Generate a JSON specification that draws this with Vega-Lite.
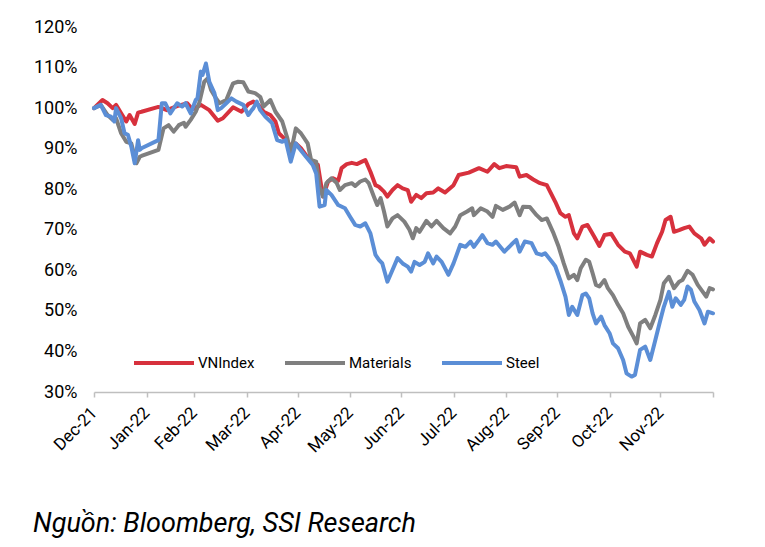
{
  "$schema": "https://vega.github.io/schema/vega-lite/v6.json",
  "width": 619,
  "height": 365,
  "autosize": {"type": "none"},
  "padding": {"left": 94, "top": 27, "right": 52, "bottom": 155},
  "background": "#ffffff",
  "title": {
    "text": "Nguồn: Bloomberg, SSI Research",
    "orient": "bottom",
    "anchor": "start",
    "frame": "group",
    "dx": -61,
    "offset": 56,
    "font": "Roboto",
    "fontStyle": "italic",
    "fontWeight": "normal",
    "fontSize": 27,
    "color": "#000000"
  },
  "config": {
    "view": {"stroke": null},
    "font": "Roboto"
  },
  "data": {
    "values": [
      {"date":"2021-12-31","series":"VNIndex","value":100},
      {"date":"2022-01-05","series":"VNIndex","value":102.0},
      {"date":"2022-01-08","series":"VNIndex","value":101.2},
      {"date":"2022-01-11","series":"VNIndex","value":100.0},
      {"date":"2022-01-13","series":"VNIndex","value":100.8},
      {"date":"2022-01-16","series":"VNIndex","value":98.7},
      {"date":"2022-01-19","series":"VNIndex","value":96.7},
      {"date":"2022-01-21","series":"VNIndex","value":98.3},
      {"date":"2022-01-24","series":"VNIndex","value":96.1},
      {"date":"2022-01-26","series":"VNIndex","value":98.9},
      {"date":"2022-01-28","series":"VNIndex","value":99.1},
      {"date":"2022-02-07","series":"VNIndex","value":100.3},
      {"date":"2022-02-12","series":"VNIndex","value":99.5},
      {"date":"2022-02-18","series":"VNIndex","value":100.5},
      {"date":"2022-02-24","series":"VNIndex","value":101.2},
      {"date":"2022-02-27","series":"VNIndex","value":99.7},
      {"date":"2022-03-04","series":"VNIndex","value":100.8},
      {"date":"2022-03-09","series":"VNIndex","value":99.5},
      {"date":"2022-03-14","series":"VNIndex","value":96.9},
      {"date":"2022-03-17","series":"VNIndex","value":97.5},
      {"date":"2022-03-23","series":"VNIndex","value":100.2},
      {"date":"2022-03-28","series":"VNIndex","value":99.1},
      {"date":"2022-04-01","series":"VNIndex","value":101.0},
      {"date":"2022-04-04","series":"VNIndex","value":101.6},
      {"date":"2022-04-07","series":"VNIndex","value":100.8},
      {"date":"2022-04-10","series":"VNIndex","value":99.1},
      {"date":"2022-04-14","series":"VNIndex","value":98.3},
      {"date":"2022-04-17","series":"VNIndex","value":96.7},
      {"date":"2022-04-19","series":"VNIndex","value":93.8},
      {"date":"2022-04-22","series":"VNIndex","value":92.6},
      {"date":"2022-04-25","series":"VNIndex","value":90.9},
      {"date":"2022-04-29","series":"VNIndex","value":91.3},
      {"date":"2022-05-02","series":"VNIndex","value":90.1},
      {"date":"2022-05-05","series":"VNIndex","value":88.4},
      {"date":"2022-05-08","series":"VNIndex","value":86.8},
      {"date":"2022-05-12","series":"VNIndex","value":86.0},
      {"date":"2022-05-15","series":"VNIndex","value":78.2},
      {"date":"2022-05-18","series":"VNIndex","value":81.9},
      {"date":"2022-05-21","series":"VNIndex","value":82.7},
      {"date":"2022-05-24","series":"VNIndex","value":82.1},
      {"date":"2022-05-26","series":"VNIndex","value":85.2},
      {"date":"2022-05-29","series":"VNIndex","value":86.2},
      {"date":"2022-06-01","series":"VNIndex","value":86.5},
      {"date":"2022-06-04","series":"VNIndex","value":86.2},
      {"date":"2022-06-07","series":"VNIndex","value":86.8},
      {"date":"2022-06-09","series":"VNIndex","value":87.2},
      {"date":"2022-06-12","series":"VNIndex","value":84.3},
      {"date":"2022-06-15","series":"VNIndex","value":81.0},
      {"date":"2022-06-17","series":"VNIndex","value":80.6},
      {"date":"2022-06-20","series":"VNIndex","value":79.4},
      {"date":"2022-06-22","series":"VNIndex","value":78.2},
      {"date":"2022-06-25","series":"VNIndex","value":79.8},
      {"date":"2022-06-28","series":"VNIndex","value":81.0},
      {"date":"2022-07-01","series":"VNIndex","value":80.2},
      {"date":"2022-07-04","series":"VNIndex","value":79.8},
      {"date":"2022-07-06","series":"VNIndex","value":76.9},
      {"date":"2022-07-09","series":"VNIndex","value":78.6},
      {"date":"2022-07-12","series":"VNIndex","value":77.8},
      {"date":"2022-07-15","series":"VNIndex","value":79.0},
      {"date":"2022-07-19","series":"VNIndex","value":79.2},
      {"date":"2022-07-22","series":"VNIndex","value":80.2},
      {"date":"2022-07-26","series":"VNIndex","value":79.2},
      {"date":"2022-07-31","series":"VNIndex","value":81.0},
      {"date":"2022-08-03","series":"VNIndex","value":83.5},
      {"date":"2022-08-09","series":"VNIndex","value":84.1},
      {"date":"2022-08-15","series":"VNIndex","value":85.2},
      {"date":"2022-08-20","series":"VNIndex","value":84.3},
      {"date":"2022-08-24","series":"VNIndex","value":86.2},
      {"date":"2022-08-27","series":"VNIndex","value":85.2},
      {"date":"2022-08-31","series":"VNIndex","value":85.7},
      {"date":"2022-09-06","series":"VNIndex","value":85.4},
      {"date":"2022-09-08","series":"VNIndex","value":83.1},
      {"date":"2022-09-12","series":"VNIndex","value":83.5},
      {"date":"2022-09-16","series":"VNIndex","value":82.4},
      {"date":"2022-09-20","series":"VNIndex","value":81.5},
      {"date":"2022-09-24","series":"VNIndex","value":81.0},
      {"date":"2022-09-29","series":"VNIndex","value":76.9},
      {"date":"2022-10-02","series":"VNIndex","value":74.1},
      {"date":"2022-10-05","series":"VNIndex","value":73.2},
      {"date":"2022-10-07","series":"VNIndex","value":73.6},
      {"date":"2022-10-10","series":"VNIndex","value":69.1},
      {"date":"2022-10-12","series":"VNIndex","value":67.9},
      {"date":"2022-10-15","series":"VNIndex","value":70.8},
      {"date":"2022-10-18","series":"VNIndex","value":71.2},
      {"date":"2022-10-22","series":"VNIndex","value":68.3},
      {"date":"2022-10-25","series":"VNIndex","value":66.0},
      {"date":"2022-10-28","series":"VNIndex","value":68.7},
      {"date":"2022-11-01","series":"VNIndex","value":69.0},
      {"date":"2022-11-05","series":"VNIndex","value":66.3},
      {"date":"2022-11-09","series":"VNIndex","value":64.6},
      {"date":"2022-11-12","series":"VNIndex","value":64.2},
      {"date":"2022-11-16","series":"VNIndex","value":60.9},
      {"date":"2022-11-18","series":"VNIndex","value":64.6},
      {"date":"2022-11-22","series":"VNIndex","value":63.8},
      {"date":"2022-11-25","series":"VNIndex","value":63.4},
      {"date":"2022-11-28","series":"VNIndex","value":66.7},
      {"date":"2022-12-01","series":"VNIndex","value":69.5},
      {"date":"2022-12-03","series":"VNIndex","value":72.4},
      {"date":"2022-12-06","series":"VNIndex","value":73.2},
      {"date":"2022-12-08","series":"VNIndex","value":69.5},
      {"date":"2022-12-11","series":"VNIndex","value":69.9},
      {"date":"2022-12-14","series":"VNIndex","value":70.4},
      {"date":"2022-12-17","series":"VNIndex","value":70.8},
      {"date":"2022-12-20","series":"VNIndex","value":69.1},
      {"date":"2022-12-24","series":"VNIndex","value":67.9},
      {"date":"2022-12-26","series":"VNIndex","value":66.3},
      {"date":"2022-12-29","series":"VNIndex","value":67.9},
      {"date":"2022-12-31","series":"VNIndex","value":67.1},

      {"date":"2021-12-31","series":"Materials","value":100},
      {"date":"2022-01-04","series":"Materials","value":100.8},
      {"date":"2022-01-08","series":"Materials","value":98.3},
      {"date":"2022-01-11","series":"Materials","value":97.1},
      {"date":"2022-01-13","series":"Materials","value":97.5},
      {"date":"2022-01-16","series":"Materials","value":93.8},
      {"date":"2022-01-19","series":"Materials","value":91.7},
      {"date":"2022-01-22","series":"Materials","value":91.3},
      {"date":"2022-01-25","series":"Materials","value":86.4},
      {"date":"2022-01-27","series":"Materials","value":88.0},
      {"date":"2022-01-28","series":"Materials","value":88.2},
      {"date":"2022-02-07","series":"Materials","value":89.7},
      {"date":"2022-02-10","series":"Materials","value":95.0},
      {"date":"2022-02-13","series":"Materials","value":95.8},
      {"date":"2022-02-16","series":"Materials","value":94.2},
      {"date":"2022-02-19","series":"Materials","value":95.8},
      {"date":"2022-02-22","series":"Materials","value":96.4},
      {"date":"2022-02-23","series":"Materials","value":95.4},
      {"date":"2022-02-26","series":"Materials","value":97.1},
      {"date":"2022-03-01","series":"Materials","value":99.1},
      {"date":"2022-03-03","series":"Materials","value":101.2},
      {"date":"2022-03-06","series":"Materials","value":106.5},
      {"date":"2022-03-08","series":"Materials","value":107.3},
      {"date":"2022-03-10","series":"Materials","value":104.5},
      {"date":"2022-03-13","series":"Materials","value":102.4},
      {"date":"2022-03-15","series":"Materials","value":101.2},
      {"date":"2022-03-19","series":"Materials","value":102.0},
      {"date":"2022-03-23","series":"Materials","value":106.1},
      {"date":"2022-03-26","series":"Materials","value":106.5},
      {"date":"2022-03-29","series":"Materials","value":106.4},
      {"date":"2022-04-01","series":"Materials","value":104.1},
      {"date":"2022-04-05","series":"Materials","value":103.7},
      {"date":"2022-04-08","series":"Materials","value":102.8},
      {"date":"2022-04-10","series":"Materials","value":100.4},
      {"date":"2022-04-14","series":"Materials","value":102.0},
      {"date":"2022-04-17","series":"Materials","value":99.1},
      {"date":"2022-04-21","series":"Materials","value":96.7},
      {"date":"2022-04-24","series":"Materials","value":92.6},
      {"date":"2022-04-26","series":"Materials","value":88.9},
      {"date":"2022-04-29","series":"Materials","value":95.0},
      {"date":"2022-05-02","series":"Materials","value":93.8},
      {"date":"2022-05-06","series":"Materials","value":91.3},
      {"date":"2022-05-08","series":"Materials","value":87.2},
      {"date":"2022-05-11","series":"Materials","value":86.8},
      {"date":"2022-05-13","series":"Materials","value":80.6},
      {"date":"2022-05-15","series":"Materials","value":78.2},
      {"date":"2022-05-17","series":"Materials","value":81.5},
      {"date":"2022-05-20","series":"Materials","value":82.7},
      {"date":"2022-05-23","series":"Materials","value":81.6},
      {"date":"2022-05-25","series":"Materials","value":79.8},
      {"date":"2022-05-28","series":"Materials","value":81.0},
      {"date":"2022-06-01","series":"Materials","value":81.5},
      {"date":"2022-06-03","series":"Materials","value":80.8},
      {"date":"2022-06-06","series":"Materials","value":81.9},
      {"date":"2022-06-09","series":"Materials","value":82.4},
      {"date":"2022-06-11","series":"Materials","value":81.5},
      {"date":"2022-06-14","series":"Materials","value":78.2},
      {"date":"2022-06-16","series":"Materials","value":76.1},
      {"date":"2022-06-18","series":"Materials","value":77.8},
      {"date":"2022-06-20","series":"Materials","value":74.5},
      {"date":"2022-06-22","series":"Materials","value":70.8},
      {"date":"2022-06-25","series":"Materials","value":72.8},
      {"date":"2022-06-28","series":"Materials","value":73.6},
      {"date":"2022-07-02","series":"Materials","value":72.0},
      {"date":"2022-07-05","series":"Materials","value":70.0},
      {"date":"2022-07-07","series":"Materials","value":67.9},
      {"date":"2022-07-09","series":"Materials","value":70.4},
      {"date":"2022-07-11","series":"Materials","value":69.5},
      {"date":"2022-07-15","series":"Materials","value":72.2},
      {"date":"2022-07-18","series":"Materials","value":70.8},
      {"date":"2022-07-21","series":"Materials","value":72.2},
      {"date":"2022-07-25","series":"Materials","value":70.4},
      {"date":"2022-07-29","series":"Materials","value":69.1},
      {"date":"2022-08-01","series":"Materials","value":70.8},
      {"date":"2022-08-04","series":"Materials","value":73.6},
      {"date":"2022-08-08","series":"Materials","value":74.5},
      {"date":"2022-08-11","series":"Materials","value":75.3},
      {"date":"2022-08-12","series":"Materials","value":73.6},
      {"date":"2022-08-16","series":"Materials","value":75.3},
      {"date":"2022-08-20","series":"Materials","value":74.5},
      {"date":"2022-08-23","series":"Materials","value":73.2},
      {"date":"2022-08-25","series":"Materials","value":75.9},
      {"date":"2022-08-29","series":"Materials","value":74.9},
      {"date":"2022-09-02","series":"Materials","value":75.7},
      {"date":"2022-09-05","series":"Materials","value":76.7},
      {"date":"2022-09-08","series":"Materials","value":73.6},
      {"date":"2022-09-10","series":"Materials","value":75.7},
      {"date":"2022-09-14","series":"Materials","value":75.6},
      {"date":"2022-09-18","series":"Materials","value":73.6},
      {"date":"2022-09-21","series":"Materials","value":72.4},
      {"date":"2022-09-24","series":"Materials","value":72.8},
      {"date":"2022-09-28","series":"Materials","value":69.1},
      {"date":"2022-10-01","series":"Materials","value":65.8},
      {"date":"2022-10-04","series":"Materials","value":61.7},
      {"date":"2022-10-07","series":"Materials","value":58.0},
      {"date":"2022-10-10","series":"Materials","value":58.9},
      {"date":"2022-10-12","series":"Materials","value":57.6},
      {"date":"2022-10-14","series":"Materials","value":60.5},
      {"date":"2022-10-17","series":"Materials","value":62.6},
      {"date":"2022-10-19","series":"Materials","value":62.1},
      {"date":"2022-10-21","series":"Materials","value":59.3},
      {"date":"2022-10-23","series":"Materials","value":56.4},
      {"date":"2022-10-25","series":"Materials","value":56.0},
      {"date":"2022-10-28","series":"Materials","value":57.6},
      {"date":"2022-10-30","series":"Materials","value":55.6},
      {"date":"2022-11-02","series":"Materials","value":53.9},
      {"date":"2022-11-05","series":"Materials","value":51.5},
      {"date":"2022-11-08","series":"Materials","value":49.4},
      {"date":"2022-11-11","series":"Materials","value":46.1},
      {"date":"2022-11-14","series":"Materials","value":43.7},
      {"date":"2022-11-16","series":"Materials","value":42.0},
      {"date":"2022-11-18","series":"Materials","value":46.9},
      {"date":"2022-11-21","series":"Materials","value":47.8},
      {"date":"2022-11-24","series":"Materials","value":45.7},
      {"date":"2022-11-27","series":"Materials","value":49.0},
      {"date":"2022-11-30","series":"Materials","value":52.7},
      {"date":"2022-12-02","series":"Materials","value":56.8},
      {"date":"2022-12-05","series":"Materials","value":58.4},
      {"date":"2022-12-08","series":"Materials","value":55.6},
      {"date":"2022-12-11","series":"Materials","value":57.2},
      {"date":"2022-12-13","series":"Materials","value":57.6},
      {"date":"2022-12-16","series":"Materials","value":59.9},
      {"date":"2022-12-19","series":"Materials","value":58.9},
      {"date":"2022-12-22","series":"Materials","value":56.4},
      {"date":"2022-12-25","series":"Materials","value":54.7},
      {"date":"2022-12-27","series":"Materials","value":53.5},
      {"date":"2022-12-29","series":"Materials","value":55.6},
      {"date":"2022-12-31","series":"Materials","value":55.3},

      {"date":"2021-12-31","series":"Steel","value":100},
      {"date":"2022-01-04","series":"Steel","value":100.8},
      {"date":"2022-01-07","series":"Steel","value":98.3},
      {"date":"2022-01-10","series":"Steel","value":97.9},
      {"date":"2022-01-12","series":"Steel","value":96.7},
      {"date":"2022-01-13","series":"Steel","value":100.0},
      {"date":"2022-01-16","series":"Steel","value":97.5},
      {"date":"2022-01-18","series":"Steel","value":93.8},
      {"date":"2022-01-20","series":"Steel","value":93.4},
      {"date":"2022-01-22","series":"Steel","value":90.5},
      {"date":"2022-01-24","series":"Steel","value":86.4},
      {"date":"2022-01-26","series":"Steel","value":92.1},
      {"date":"2022-01-27","series":"Steel","value":89.7},
      {"date":"2022-01-28","series":"Steel","value":90.1},
      {"date":"2022-02-07","series":"Steel","value":92.1},
      {"date":"2022-02-09","series":"Steel","value":101.2},
      {"date":"2022-02-11","series":"Steel","value":101.2},
      {"date":"2022-02-14","series":"Steel","value":98.7},
      {"date":"2022-02-18","series":"Steel","value":101.2},
      {"date":"2022-02-21","series":"Steel","value":100.4},
      {"date":"2022-02-23","series":"Steel","value":101.2},
      {"date":"2022-02-26","series":"Steel","value":98.7},
      {"date":"2022-03-01","series":"Steel","value":102.0},
      {"date":"2022-03-02","series":"Steel","value":102.4},
      {"date":"2022-03-04","series":"Steel","value":109.0},
      {"date":"2022-03-05","series":"Steel","value":108.2},
      {"date":"2022-03-07","series":"Steel","value":111.0},
      {"date":"2022-03-09","series":"Steel","value":106.5},
      {"date":"2022-03-12","series":"Steel","value":103.7},
      {"date":"2022-03-14","series":"Steel","value":99.5},
      {"date":"2022-03-16","series":"Steel","value":100.0},
      {"date":"2022-03-19","series":"Steel","value":101.2},
      {"date":"2022-03-22","series":"Steel","value":102.4},
      {"date":"2022-03-25","series":"Steel","value":101.6},
      {"date":"2022-03-29","series":"Steel","value":100.8},
      {"date":"2022-04-01","series":"Steel","value":98.3},
      {"date":"2022-04-03","series":"Steel","value":99.5},
      {"date":"2022-04-04","series":"Steel","value":100.0},
      {"date":"2022-04-06","series":"Steel","value":101.6},
      {"date":"2022-04-08","series":"Steel","value":99.5},
      {"date":"2022-04-11","series":"Steel","value":97.9},
      {"date":"2022-04-15","series":"Steel","value":96.3},
      {"date":"2022-04-18","series":"Steel","value":92.1},
      {"date":"2022-04-21","series":"Steel","value":91.7},
      {"date":"2022-04-23","series":"Steel","value":92.1},
      {"date":"2022-04-26","series":"Steel","value":86.8},
      {"date":"2022-04-29","series":"Steel","value":91.3},
      {"date":"2022-05-01","series":"Steel","value":90.1},
      {"date":"2022-05-05","series":"Steel","value":88.0},
      {"date":"2022-05-09","series":"Steel","value":86.0},
      {"date":"2022-05-11","series":"Steel","value":83.9},
      {"date":"2022-05-13","series":"Steel","value":75.7},
      {"date":"2022-05-16","series":"Steel","value":76.1},
      {"date":"2022-05-17","series":"Steel","value":79.8},
      {"date":"2022-05-20","series":"Steel","value":78.6},
      {"date":"2022-05-24","series":"Steel","value":76.1},
      {"date":"2022-05-28","series":"Steel","value":75.3},
      {"date":"2022-05-31","series":"Steel","value":73.2},
      {"date":"2022-06-03","series":"Steel","value":71.2},
      {"date":"2022-06-06","series":"Steel","value":70.8},
      {"date":"2022-06-09","series":"Steel","value":71.6},
      {"date":"2022-06-12","series":"Steel","value":69.1},
      {"date":"2022-06-15","series":"Steel","value":63.8},
      {"date":"2022-06-17","series":"Steel","value":62.6},
      {"date":"2022-06-19","series":"Steel","value":61.7},
      {"date":"2022-06-22","series":"Steel","value":57.2},
      {"date":"2022-06-25","series":"Steel","value":60.1},
      {"date":"2022-06-28","series":"Steel","value":63.0},
      {"date":"2022-07-01","series":"Steel","value":61.7},
      {"date":"2022-07-04","series":"Steel","value":60.9},
      {"date":"2022-07-06","series":"Steel","value":59.7},
      {"date":"2022-07-08","series":"Steel","value":62.1},
      {"date":"2022-07-11","series":"Steel","value":61.3},
      {"date":"2022-07-14","series":"Steel","value":62.1},
      {"date":"2022-07-16","series":"Steel","value":64.2},
      {"date":"2022-07-19","series":"Steel","value":61.7},
      {"date":"2022-07-21","series":"Steel","value":63.4},
      {"date":"2022-07-24","series":"Steel","value":62.1},
      {"date":"2022-07-28","series":"Steel","value":58.9},
      {"date":"2022-07-31","series":"Steel","value":61.7},
      {"date":"2022-08-04","series":"Steel","value":66.3},
      {"date":"2022-08-07","series":"Steel","value":65.8},
      {"date":"2022-08-10","series":"Steel","value":67.1},
      {"date":"2022-08-12","series":"Steel","value":65.8},
      {"date":"2022-08-15","series":"Steel","value":67.5},
      {"date":"2022-08-17","series":"Steel","value":68.7},
      {"date":"2022-08-20","series":"Steel","value":66.7},
      {"date":"2022-08-23","series":"Steel","value":66.3},
      {"date":"2022-08-25","series":"Steel","value":67.1},
      {"date":"2022-08-30","series":"Steel","value":64.6},
      {"date":"2022-09-03","series":"Steel","value":66.3},
      {"date":"2022-09-06","series":"Steel","value":67.5},
      {"date":"2022-09-08","series":"Steel","value":64.6},
      {"date":"2022-09-11","series":"Steel","value":67.1},
      {"date":"2022-09-15","series":"Steel","value":66.7},
      {"date":"2022-09-18","series":"Steel","value":64.2},
      {"date":"2022-09-21","series":"Steel","value":63.8},
      {"date":"2022-09-23","series":"Steel","value":64.2},
      {"date":"2022-09-27","series":"Steel","value":62.1},
      {"date":"2022-09-29","series":"Steel","value":61.0},
      {"date":"2022-10-02","series":"Steel","value":57.5},
      {"date":"2022-10-05","series":"Steel","value":53.5},
      {"date":"2022-10-07","series":"Steel","value":49.0},
      {"date":"2022-10-09","series":"Steel","value":51.0},
      {"date":"2022-10-12","series":"Steel","value":49.0},
      {"date":"2022-10-15","series":"Steel","value":53.9},
      {"date":"2022-10-17","series":"Steel","value":54.3},
      {"date":"2022-10-19","series":"Steel","value":53.1},
      {"date":"2022-10-21","series":"Steel","value":49.4},
      {"date":"2022-10-23","series":"Steel","value":46.9},
      {"date":"2022-10-26","series":"Steel","value":48.6},
      {"date":"2022-10-28","series":"Steel","value":46.5},
      {"date":"2022-10-31","series":"Steel","value":44.5},
      {"date":"2022-11-02","series":"Steel","value":42.0},
      {"date":"2022-11-05","series":"Steel","value":40.8},
      {"date":"2022-11-08","series":"Steel","value":37.9},
      {"date":"2022-11-10","series":"Steel","value":34.6},
      {"date":"2022-11-13","series":"Steel","value":33.8},
      {"date":"2022-11-15","series":"Steel","value":34.2},
      {"date":"2022-11-18","series":"Steel","value":40.4},
      {"date":"2022-11-21","series":"Steel","value":41.2},
      {"date":"2022-11-24","series":"Steel","value":37.9},
      {"date":"2022-11-27","series":"Steel","value":42.8},
      {"date":"2022-11-30","series":"Steel","value":47.8},
      {"date":"2022-12-02","series":"Steel","value":51.0},
      {"date":"2022-12-05","series":"Steel","value":54.7},
      {"date":"2022-12-07","series":"Steel","value":51.0},
      {"date":"2022-12-09","series":"Steel","value":53.1},
      {"date":"2022-12-12","series":"Steel","value":51.5},
      {"date":"2022-12-14","series":"Steel","value":52.7},
      {"date":"2022-12-16","series":"Steel","value":56.0},
      {"date":"2022-12-18","series":"Steel","value":55.2},
      {"date":"2022-12-20","series":"Steel","value":52.3},
      {"date":"2022-12-23","series":"Steel","value":50.2},
      {"date":"2022-12-26","series":"Steel","value":46.9},
      {"date":"2022-12-28","series":"Steel","value":49.8},
      {"date":"2022-12-31","series":"Steel","value":49.4}
    ]
  },
  "mark": {"type": "line", "strokeWidth": 4, "strokeJoin": "round", "strokeCap": "round"},
  "encoding": {
    "x": {
      "field": "date",
      "type": "temporal",
      "scale": {
        "type": "utc",
        "domain": [
          {"year": 2021, "month": 12, "date": 31, "utc": true},
          {"year": 2022, "month": 12, "date": 31, "utc": true}
        ]
      },
      "axis": {
        "title": null,
        "grid": false,
        "domainColor": "#BFBFBF",
        "domainWidth": 1.5,
        "tickColor": "#BFBFBF",
        "tickWidth": 1.5,
        "tickSize": 5,
        "values": [
          {"year": 2021, "month": 12, "date": 31, "utc": true},
          {"year": 2022, "month": 1, "date": 31, "utc": true},
          {"year": 2022, "month": 2, "date": 28, "utc": true},
          {"year": 2022, "month": 3, "date": 31, "utc": true},
          {"year": 2022, "month": 4, "date": 30, "utc": true},
          {"year": 2022, "month": 5, "date": 31, "utc": true},
          {"year": 2022, "month": 6, "date": 30, "utc": true},
          {"year": 2022, "month": 7, "date": 31, "utc": true},
          {"year": 2022, "month": 8, "date": 31, "utc": true},
          {"year": 2022, "month": 9, "date": 30, "utc": true},
          {"year": 2022, "month": 10, "date": 31, "utc": true},
          {"year": 2022, "month": 11, "date": 30, "utc": true},
          {"year": 2022, "month": 12, "date": 31, "utc": true}
        ],
        "labelExpr": "datum.value > utc(2022, 11, 15) ? '' : utcFormat(datum.value, '%b-%y')",
        "labelAngle": -45,
        "labelAlign": "right",
        "labelBaseline": "middle",
        "labelPadding": 13,
        "labelFontSize": 17,
        "labelColor": "#000000",
        "labelOverlap": false,
        "labelBound": false,
        "labelFlush": false
      }
    },
    "y": {
      "field": "value",
      "type": "quantitative",
      "scale": {"domain": [30, 120], "nice": false, "zero": false},
      "axis": {
        "title": null,
        "grid": false,
        "domain": false,
        "ticks": false,
        "values": [30, 40, 50, 60, 70, 80, 90, 100, 110, 120],
        "labelExpr": "datum.value + '%'",
        "labelPadding": 17,
        "labelFontSize": 18,
        "labelColor": "#000000"
      }
    },
    "color": {
      "field": "series",
      "type": "nominal",
      "scale": {
        "domain": ["VNIndex", "Materials", "Steel"],
        "range": ["#D7313D", "#7F7F7F", "#5B8ED6"]
      },
      "legend": {
        "title": null,
        "orient": "none",
        "direction": "horizontal",
        "legendX": 38,
        "legendY": 304,
        "symbolType": "stroke",
        "symbolSize": 3600,
        "symbolStrokeWidth": 4,
        "labelFontSize": 15,
        "labelColor": "#000000",
        "labelOffset": 2,
        "columnPadding": 22,
        "padding": 0
      }
    }
  }
}
